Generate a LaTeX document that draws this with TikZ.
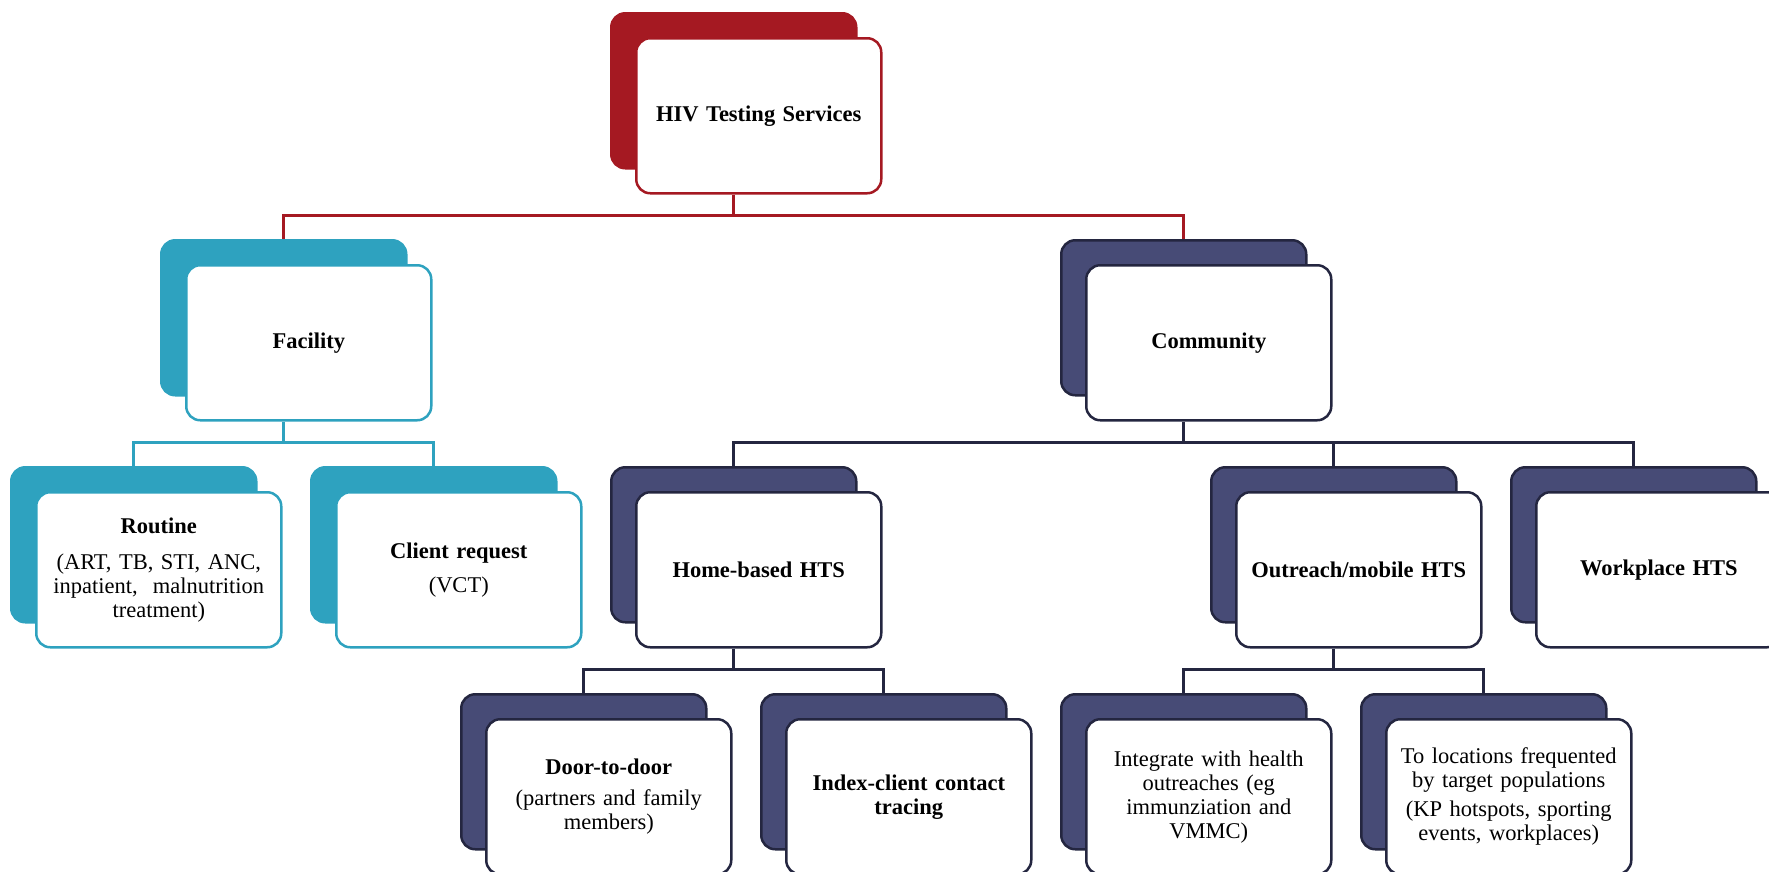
\documentclass[tikz,border=0pt]{standalone}
\usepackage{fontspec}
\setmainfont{Liberation Serif}

\definecolor{hivred}{RGB}{165,25,34}
\definecolor{facteal}{RGB}{46,162,191}
\definecolor{comnavy}{RGB}{71,75,118}
\definecolor{comline}{RGB}{36,38,64}

\tikzset{
  card/.style={rectangle, rounded corners=14pt, minimum width=245pt,
    minimum height=155pt, inner sep=0pt, anchor=north west, line width=2.5pt},
  backcard/.style={card, fill=#1, draw=#1},
  backnavy/.style={card, fill=comnavy, draw=comline},
  frontcard/.style={card, fill=white, draw=#1, text width=234pt, align=center,
    font=\fontsize{22.5}{24}\selectfont},
  link/.style={line width=3pt, draw=#1},
}

\begin{document}
\begin{tikzpicture}[x=1pt, y=-1pt]
\useasboundingbox (0,0) rectangle (1769,871);
\clip (0,0) rectangle (1769,871);

% level 1
\node[backcard=hivred] (hivB) at (610,12) {};
\node[frontcard=hivred] (hiv) at (635,37) {\textbf{HIV Testing Services}};

% level 2
\node[backcard=facteal] (facB) at (160,239) {};
\node[frontcard=facteal] (fac) at (185,264) {\textbf{Facility}};
\node[backnavy] (comB) at (1060,239) {};
\node[frontcard=comline] (com) at (1085,264) {\textbf{Community}};

% level 3
\node[backcard=facteal] (routB) at (10,466) {};
\node[frontcard=facteal] (rout) at (35,491)
  {\textbf{Routine}\\[12pt](ART, TB, STI, ANC,\\ inpatient,\ \ malnutrition\\ treatment)};
\node[backcard=facteal] (cliB) at (310,466) {};
\node[frontcard=facteal] (cli) at (335,491) {\textbf{Client request}\\[10pt](VCT)};
\node[backnavy] (homeB) at (610,466) {};
\node[frontcard=comline] (home) at (635,491) {\textbf{Home-based HTS}};
\node[backnavy] (outB) at (1210,466) {};
\node[frontcard=comline] (out) at (1235,491) {\textbf{Outreach/mobile HTS}};
\node[backnavy] (workB) at (1510,466) {};
\node[frontcard=comline] (work) at (1535,491) {\textbf{Workplace HTS}};

% level 4
\node[backnavy] (doorB) at (460,693) {};
\node[frontcard=comline] (door) at (485,718)
  {\textbf{Door-to-door}\\[7pt](partners and family\\ members)};
\node[backnavy] (idxB) at (760,693) {};
\node[frontcard=comline] (idx) at (785,718) {\textbf{Index-client contact}\\ \textbf{tracing}};
\node[backnavy] (integB) at (1060,693) {};
\node[frontcard=comline] (integ) at (1085,718)
  {Integrate with health\\ outreaches (eg\\ immunziation and\\ VMMC)};
\node[backnavy] (locB) at (1360,693) {};
\node[frontcard=comline] (loc) at (1385,718)
  {To locations frequented\\ by target populations\\[5pt](KP hotspots, sporting\\ events, workplaces)};

% connector bars
\coordinate (bar1) at (0,215.5);
\coordinate (bar2) at (0,442.5);
\coordinate (bar3) at (0,669.5);

\draw[link=hivred] (hivB |- hiv.south) -- (hivB |- bar1) -| (facB.north);
\draw[link=hivred] (hivB |- bar1) -| (comB.north);

\draw[link=facteal] (facB |- fac.south) -- (facB |- bar2) -| (routB.north);
\draw[link=facteal] (facB |- bar2) -| (cliB.north);

\draw[link=comline] (comB |- com.south) -- (comB |- bar2) -| (homeB.north);
\draw[link=comline] (comB |- bar2) -| (outB.north);
\draw[link=comline] (comB |- bar2) -| (workB.north);

\draw[link=comline] (homeB |- home.south) -- (homeB |- bar3) -| (doorB.north);
\draw[link=comline] (homeB |- bar3) -| (idxB.north);

\draw[link=comline] (outB |- out.south) -- (outB |- bar3) -| (integB.north);
\draw[link=comline] (outB |- bar3) -| (locB.north);
\end{tikzpicture}
\end{document}
